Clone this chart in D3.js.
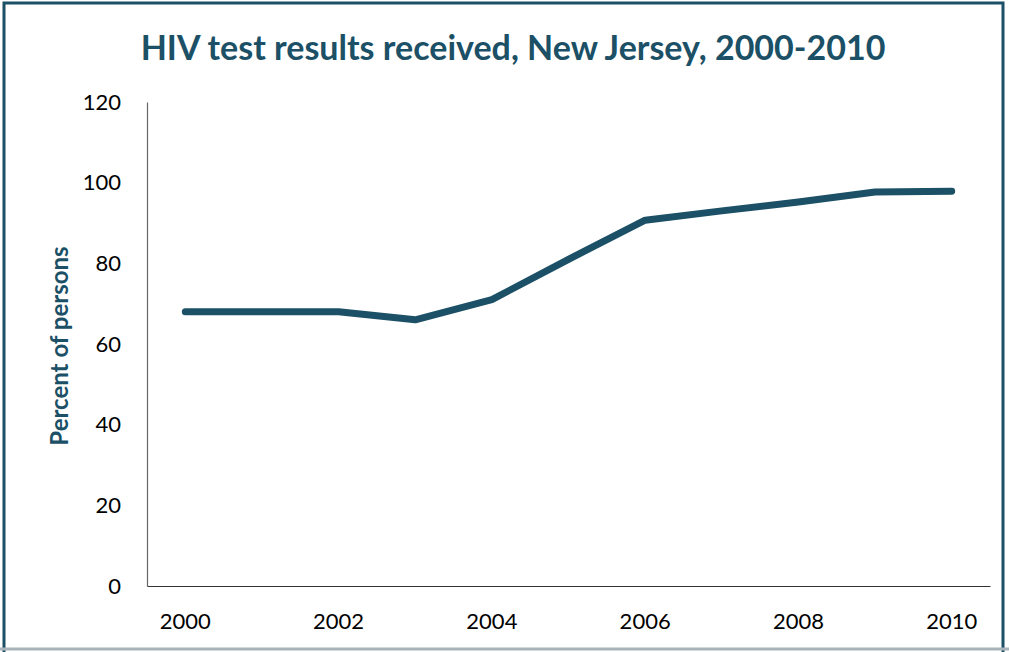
<!DOCTYPE html>
<html>
<head>
<meta charset="utf-8">
<script src="https://d3js.org/d3.v7.min.js"></script>
<style>
  body { margin: 0; background: #fff; }
  svg text { font-family: Lato, "Open Sans", sans-serif; }
</style>
</head>
<body>
<div id="chart"></div>
<script>
var years = [2000, 2001, 2002, 2003, 2004, 2005, 2006, 2007, 2008, 2009, 2010];
var percent = [68, 68, 68, 66, 71, 81, 90.7, 93, 95.2, 97.7, 97.9];
var yTicks = [0, 20, 40, 60, 80, 100, 120];
var xTickYears = [2000, 2002, 2004, 2006, 2008, 2010];

var width = 1009, height = 652;
var teal = "#1b5066";
var margin = {left: 147, right: 19, top: 102, bottom: 66};

var svg = d3.select("#chart").append("svg")
    .attr("width", width)
    .attr("height", height);

// frame
svg.append("rect")
    .attr("x", 4).attr("y", 3)
    .attr("width", 999).attr("height", 660)
    .attr("fill", "none")
    .attr("stroke", teal)
    .attr("stroke-width", 3);
svg.append("line")
    .attr("x1", 0).attr("x2", width)
    .attr("y1", 649).attr("y2", 649)
    .attr("stroke", "#a9b4ba").attr("stroke-width", 3);

svg.append("text")
    .attr("x", 513).attr("y", 60)
    .attr("text-anchor", "middle")
    .attr("fill", teal)
    .style("font-size", "34px")
    .style("font-weight", "bold")
    .text("HIV test results received, New Jersey, 2000-2010");

var x = d3.scaleBand()
    .domain(years)
    .range([margin.left, width - margin.right]);

var y = d3.scaleLinear()
    .domain([0, 120])
    .range([height - margin.bottom, margin.top]);

var gx = svg.append("g")
    .attr("transform", "translate(0," + (height - margin.bottom) + ")")
    .call(d3.axisBottom(x).tickValues(xTickYears).tickSize(0).tickPadding(27));
gx.select(".domain").attr("stroke", "#333").attr("stroke-width", 1.2);
gx.selectAll("text").style("font-size", "22px").attr("fill", "#000");

var gy = svg.append("g")
    .attr("transform", "translate(" + margin.left + ",0)")
    .call(d3.axisLeft(y).tickValues(yTicks).tickSize(0).tickPadding(26));
gy.select(".domain").attr("stroke", "#666").attr("stroke-width", 1.2);
gy.selectAll("text").style("font-size", "22px").attr("fill", "#000");

svg.append("text")
    .attr("transform", "translate(68,346) rotate(-90)")
    .attr("text-anchor", "middle")
    .attr("fill", teal)
    .style("font-size", "24px")
    .style("font-weight", "bold")
    .text("Percent of persons");

var line = d3.line()
    .x(function(d, i) { return x(years[i]) + x.bandwidth() / 2; })
    .y(function(d) { return y(d); });

svg.append("path")
    .datum(percent)
    .attr("d", line)
    .attr("fill", "none")
    .attr("stroke", teal)
    .attr("stroke-width", 7)
    .attr("stroke-linecap", "round")
    .attr("stroke-linejoin", "round");
</script>
</body>
</html>
